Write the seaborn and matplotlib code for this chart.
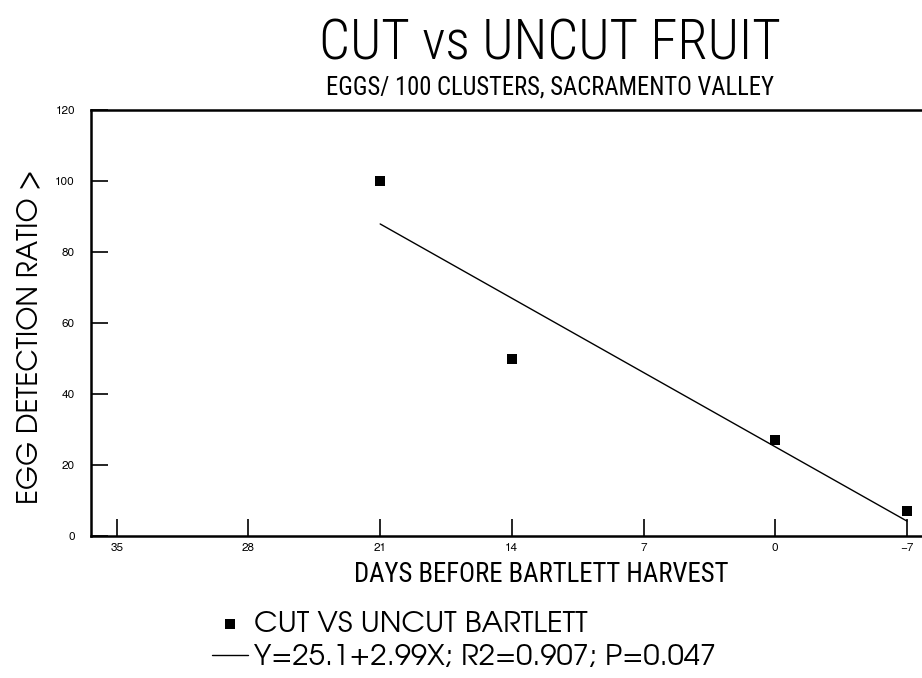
import matplotlib
matplotlib.use("Agg")
import matplotlib.pyplot as plt
import seaborn as sns
import pandas as pd

# values
days = [21, 14, 0, -7]
egg_ratio = [100, 50, 27, 7]
fit_days = [21, -7]
fit_ratio = [87.9, 4.2]

x_ticks = [35, 28, 21, 14, 7, 0, -7]
y_ticks = [0, 20, 40, 60, 80, 100, 120]

point_label = 'CUT VS UNCUT BARTLETT'
fit_label = 'Y=25.1+2.99X; R2=0.907; P=0.047'

narrow = ['Roboto Condensed', 'DejaVu Sans']
gothic = ['TeX Gyre Adventor', 'DejaVu Sans']
helv = ['TeX Gyre Heros', 'DejaVu Sans']

sns.set_style("ticks")
plt.rcParams['font.family'] = helv
plt.rcParams['text.color'] = 'black'
plt.rcParams['xtick.color'] = 'black'
plt.rcParams['ytick.color'] = 'black'
plt.rcParams['xtick.direction'] = 'in'
plt.rcParams['ytick.direction'] = 'in'

fig = plt.figure(figsize=(9.22, 6.78), dpi=100)
ax = fig.add_axes([91 / 922, 142 / 678, 831 / 922, 426 / 678])

points = pd.DataFrame({'days': days, 'ratio': egg_ratio})
fit = pd.DataFrame({'days': fit_days, 'ratio': fit_ratio})

sns.scatterplot(data=points, x='days', y='ratio', marker='s', s=62,
                color='black', edgecolor='black', linewidth=0,
                label=point_label, ax=ax, zorder=3)
sns.lineplot(data=fit, x='days', y='ratio', color='black', linewidth=1,
             label=fit_label, ax=ax)

ax.set_xlim(36.37, -7.8)
ax.set_ylim(0, 120)
ax.set_xticks(x_ticks)
ax.set_yticks(y_ticks)
ax.tick_params(axis='both', length=12, width=1.2, labelsize=8.5)
ax.tick_params(axis='y', pad=11.5)
ax.tick_params(axis='x', pad=5)
ax.set_xlabel('')
ax.set_ylabel('')
for side in ['left', 'top', 'bottom']:
    ax.spines[side].set_linewidth(1.8)
    ax.spines[side].set_color('black')
ax.spines['right'].set_visible(False)

fig.text(550 / 922, 1 - 44 / 678, 'CUT vs UNCUT FRUIT', family=narrow,
         weight='light', fontsize=39.5, ha='center', va='center')
fig.text(550 / 922, 1 - 87 / 678, 'EGGS/ 100 CLUSTERS, SACRAMENTO VALLEY',
         family=narrow, fontsize=17.7, ha='center', va='center')
fig.text(541 / 922, 1 - 575 / 678, 'DAYS BEFORE BARTLETT HARVEST',
         family=narrow, fontsize=19.3, ha='center', va='center')
fig.text(30 / 922, 1 - 337 / 678, 'EGG DETECTION RATIO >', family=gothic,
         fontsize=20, rotation=90, ha='center', va='center')

leg = ax.legend(loc='upper left', bbox_to_anchor=(212 / 922, 1 - 611 / 678),
                bbox_transform=fig.transFigure, frameon=False,
                prop={'family': gothic, 'size': 21},
                borderaxespad=0, borderpad=0, labelspacing=0.25,
                handlelength=1.25, handletextpad=0.2)

fig.savefig('out.png', dpi=100)
